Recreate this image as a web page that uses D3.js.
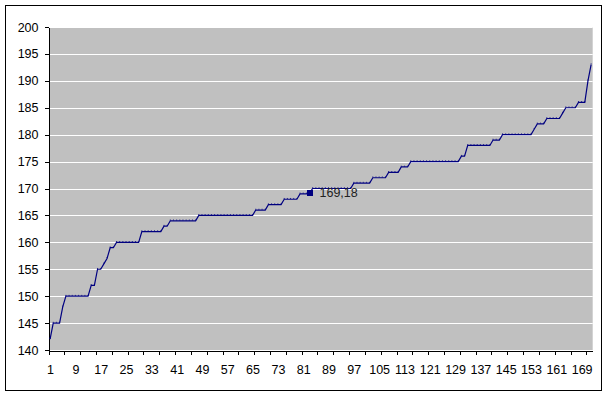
<!DOCTYPE html>
<html>
<head>
<meta charset="utf-8">
<script src="https://cdn.jsdelivr.net/npm/d3@7"></script>
<style>
    body { margin: 0; background: #fff; }
    text { font-family: Arial, "Liberation Sans", sans-serif; }
</style>
</head>
<body>
<div id="chart"></div>
<script>
// sorted heights, the mean (169,18) sits in the series at position 83
const heights = [
    142,
    145, 145, 145,
    148,
    150, 150, 150, 150, 150, 150, 150, 150,
    152, 152,
    155, 155,
    156,
    157,
    159, 159,
    160, 160, 160, 160, 160, 160, 160, 160,
    162, 162, 162, 162, 162, 162, 162,
    163, 163,
    164, 164, 164, 164, 164, 164, 164, 164, 164,
    165, 165, 165, 165, 165, 165, 165, 165, 165, 165, 165, 165, 165, 165, 165, 165, 165, 165,
    166, 166, 166, 166,
    167, 167, 167, 167, 167,
    168, 168, 168, 168, 168,
    169, 169, 169,
    169.18,
    170, 170, 170, 170, 170, 170, 170, 170, 170, 170, 170, 170, 170,
    171, 171, 171, 171, 171, 171,
    172, 172, 172, 172, 172,
    173, 173, 173, 173,
    174, 174, 174,
    175, 175, 175, 175, 175, 175, 175, 175, 175, 175, 175, 175, 175, 175, 175, 175,
    176, 176,
    178, 178, 178, 178, 178, 178, 178, 178,
    179, 179, 179,
    180, 180, 180, 180, 180, 180, 180, 180, 180, 180,
    181,
    182, 182, 182,
    183, 183, 183, 183, 183,
    184,
    185, 185, 185, 185,
    186, 186, 186,
    190,
    193
];
const categories = heights.map((d, i) => i + 1);
const meanCategory = 83;
const meanLabel = '169,18';
const xTickLabels = [1, 9, 17, 25, 33, 41, 49, 57, 65, 73, 81, 89, 97, 105, 113, 121, 129, 137, 145, 153, 161, 169];
const xTickMarks = [0, 5, 10, 15, 20, 25, 30, 35, 40, 45, 50, 55, 60, 65, 70, 75, 80, 85,
    90, 95, 100, 105, 110, 115, 120, 125, 130, 135, 140, 145, 150, 155, 160, 165, 170];
const yTicks = [140, 145, 150, 155, 160, 165, 170, 175, 180, 185, 190, 195, 200];

const width = 609, height = 397;
const plot = { left: 48.5, right: 592.7, top: 27, bottom: 350 };
const navy = '#000080';

const svg = d3.select('#chart').append('svg')
    .attr('width', width)
    .attr('height', height);

// outer chart border
svg.append('rect')
    .attr('x', 5.5).attr('y', 5.5)
    .attr('width', 596).attr('height', 385)
    .attr('fill', '#fff')
    .attr('stroke', '#000');

// x: linear over category slots, category i centred at i - 0.5
const x = d3.scaleLinear().domain([0, categories.length]).range([plot.left, plot.right]);
const y = d3.scaleLinear().domain([140, 200]).range([plot.bottom, plot.top]);
const cx = c => x(c - 0.5);

svg.append('rect')
    .attr('x', Math.round(plot.left)).attr('y', plot.top)
    .attr('width', plot.right - Math.round(plot.left))
    .attr('height', plot.bottom - plot.top)
    .attr('fill', '#C0C0C0');

// gridlines
svg.append('g')
    .selectAll('line')
    .data(yTicks.slice(1))
    .enter()
    .append('line')
    .attr('x1', Math.round(plot.left)).attr('x2', plot.right)
    .attr('y1', d => Math.round(y(d)) + 0.5)
    .attr('y2', d => Math.round(y(d)) + 0.5)
    .attr('stroke', '#fff')
    .attr('stroke-width', 1);

// y axis
const yAxis = svg.append('g')
    .attr('transform', `translate(${plot.left},0)`)
    .call(d3.axisLeft(y).tickValues(yTicks).tickSize(4).tickPadding(6).tickSizeOuter(0));

// x axis tick marks every 5 categories
const xMarks = svg.append('g')
    .attr('transform', `translate(0,${plot.bottom + 0.5})`)
    .call(d3.axisBottom(x).tickValues(xTickMarks).tickSize(4).tickFormat('').tickSizeOuter(0));

// x labels every 8 categories
const xLabels = svg.append('g')
    .attr('transform', `translate(0,${plot.bottom + 0.5})`)
    .call(d3.axisBottom(x)
        .tickValues(xTickLabels.map(c => c - 0.5))
        .tickSize(0)
        .tickPadding(15)
        .tickFormat(d => d3.format('d')(d + 0.5)));
xLabels.select('.domain').remove();

[yAxis, xMarks, xLabels].forEach(g => {
    g.selectAll('text').attr('font-size', 12.5).attr('fill', '#000')
        .attr('font-family', 'Arial, "Liberation Sans", sans-serif');
    g.selectAll('line, path').attr('stroke', '#000').attr('shape-rendering', 'crispEdges');
});

// series line
const line = d3.line()
    .x((d, i) => cx(categories[i]))
    .y(d => y(d));

svg.append('path')
    .datum(heights)
    .attr('d', line)
    .attr('fill', 'none')
    .attr('stroke', navy)
    .attr('stroke-width', 1.2);

// tiny point markers, barely showing above the line
svg.append('g')
    .selectAll('rect')
    .data(heights)
    .enter()
    .append('rect')
    .attr('x', (d, i) => cx(categories[i]) - 0.5)
    .attr('y', d => y(d) - 1.3)
    .attr('width', 1)
    .attr('height', 1)
    .attr('fill', navy)
    .attr('opacity', 0.8);

// highlighted mean point with its label
const meanValue = heights[meanCategory - 1];
svg.append('rect')
    .attr('x', Math.round(cx(meanCategory)) - 3)
    .attr('y', Math.round(y(meanValue)) - 3)
    .attr('width', 6)
    .attr('height', 6)
    .attr('fill', navy)
    .attr('shape-rendering', 'crispEdges');

svg.append('text')
    .attr('x', cx(meanCategory) + 10)
    .attr('y', y(meanValue))
    .attr('dy', '0.35em')
    .attr('font-size', 12.5)
    .attr('fill', '#222')
    .text(meanLabel);
</script>
</body>
</html>
